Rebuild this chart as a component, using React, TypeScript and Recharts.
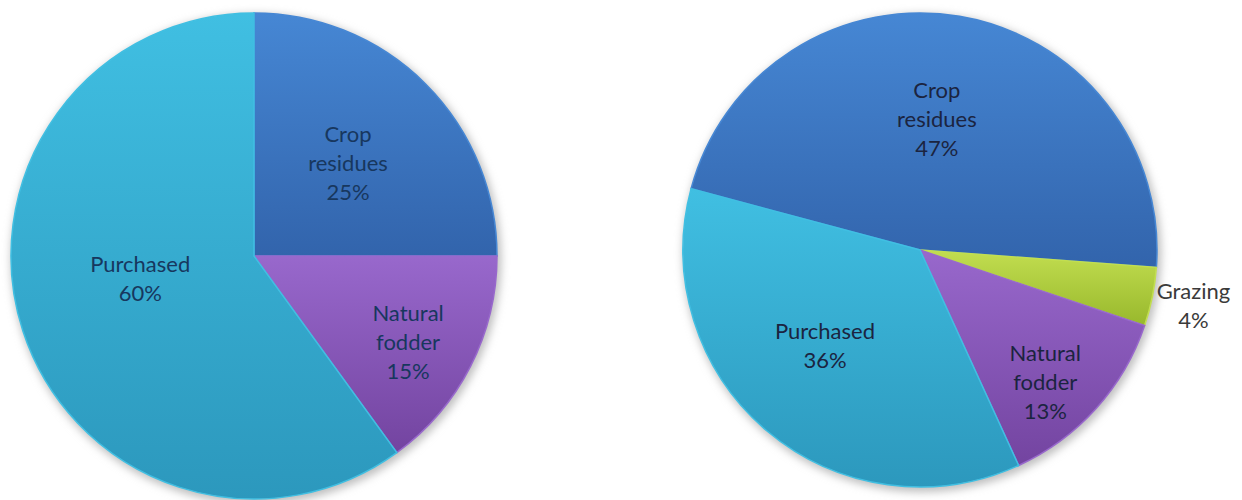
import { PieChart, Pie, Cell } from "recharts";

// ---- data: left pie ----
const leftCategories = ["Crop residues", "Natural fodder", "Purchased"];
const leftValues = [25, 15, 60];

// ---- data: right pie ----
const rightCategories = ["Crop residues", "Grazing", "Natural fodder", "Purchased"];
const rightValues = [47, 4, 13, 36];

// colours per category: [top, bottom] of the gradient
const palette: Record<string, [string, string]> = {
    "Crop residues": ["#4687d4", "#3264ac"],
    "Natural fodder": ["#9868cc", "#7344a0"],
    Purchased: ["#40bfe2", "#2c98bd"],
    Grazing: ["#c2de50", "#98b82c"],
};

// label placement tweaks (radius fraction, angle shift from mid angle)
const leftLabelPlace = [
    { rf: 0.547, da: 0 },
    { rf: 0.725, da: -2 },
    { rf: 0.477, da: -7 },
];
const rightLabelPlace = [
    { rf: 0.56, da: 2.3 },
    { rf: 1.177, da: 0 },
    { rf: 0.765, da: -4.3 },
    { rf: 0.567, da: -4.8 },
];

const leftData = leftCategories.map((name, i) => ({ name, value: leftValues[i] }));
const rightData = rightCategories.map((name, i) => ({ name, value: rightValues[i] }));

const RAD = Math.PI / 180;
const FONT = "Lato, 'Open Sans', sans-serif";

function makeLabel(
    place: { rf: number; da: number }[],
    color: (name: string) => string
) {
    return function Label(props: any) {
        const { cx, cy, midAngle, outerRadius, index, name, value } = props;
        const p = place[index];
        const a = (midAngle + p.da) * RAD;
        const r = outerRadius * p.rf;
        const x = cx + r * Math.cos(a);
        const y = cy - r * Math.sin(a);
        const lines = [...String(name).split(" "), `${value}%`];
        return (
            <g>
                {lines.map((line, i) => (
                    <text
                        key={i}
                        x={x}
                        y={y + (i - (lines.length - 1) / 2) * 29}
                        textAnchor="middle"
                        dominantBaseline="central"
                        fill={color(name)}
                        fontSize={22}
                        fontFamily={FONT}
                    >
                        {line}
                    </text>
                ))}
            </g>
        );
    };
}

const gradId = (name: string) => "g-" + name.replace(/\s+/g, "-");

export default function App() {
    return (
        <div style={{ position: "absolute", left: 0, top: 0, background: "#fff" }}>
            <PieChart
                width={1242}
                height={500}
                margin={{ top: 0, right: 0, bottom: 0, left: 0 }}
            >
                <defs>
                    {Object.entries(palette).map(([name, [top, bottom]]) => (
                        <linearGradient key={name} id={gradId(name)} x1="0" y1="0" x2="0" y2="1">
                            <stop offset="0%" stopColor={top} />
                            <stop offset="100%" stopColor={bottom} />
                        </linearGradient>
                    ))}
                    <filter id="shadow" x="-10%" y="-10%" width="120%" height="120%">
                        <feGaussianBlur stdDeviation="4" />
                    </filter>
                </defs>

                {/* soft shadows behind the pies */}
                <Pie
                    data={[{ name: "s", value: 1 }]}
                    dataKey="value"
                    cx={256}
                    cy={259}
                    outerRadius={245}
                    fill="#bdbdbd"
                    stroke="none"
                    style={{ filter: "url(#shadow)" }}
                    isAnimationActive={false}
                />
                <Pie
                    data={[{ name: "s", value: 1 }]}
                    dataKey="value"
                    cx={922}
                    cy={253}
                    outerRadius={239}
                    fill="#bdbdbd"
                    stroke="none"
                    style={{ filter: "url(#shadow)" }}
                    isAnimationActive={false}
                />

                {/* LEFT PIE */}
                <Pie
                    data={leftData}
                    dataKey="value"
                    nameKey="name"
                    cx={254}
                    cy={256}
                    outerRadius={243}
                    startAngle={90}
                    endAngle={-270}
                    labelLine={false}
                    label={makeLabel(leftLabelPlace, () => "#17375e")}
                    isAnimationActive={false}
                >
                    {leftData.map((d) => (
                        <Cell
                            key={d.name}
                            fill={`url(#${gradId(d.name)})`}
                            stroke={palette[d.name][0]}
                            strokeWidth={1.5}
                        />
                    ))}
                </Pie>

                {/* RIGHT PIE */}
                <Pie
                    data={rightData}
                    dataKey="value"
                    nameKey="name"
                    cx={920}
                    cy={250}
                    outerRadius={237}
                    startAngle={165}
                    endAngle={-195}
                    labelLine={false}
                    label={makeLabel(rightLabelPlace, (n) =>
                        n === "Grazing" ? "#3a3a3a" : "#1b2440"
                    )}
                    isAnimationActive={false}
                >
                    {rightData.map((d) => (
                        <Cell
                            key={d.name}
                            fill={`url(#${gradId(d.name)})`}
                            stroke={palette[d.name][0]}
                            strokeWidth={1.5}
                        />
                    ))}
                </Pie>
            </PieChart>
        </div>
    );
}
